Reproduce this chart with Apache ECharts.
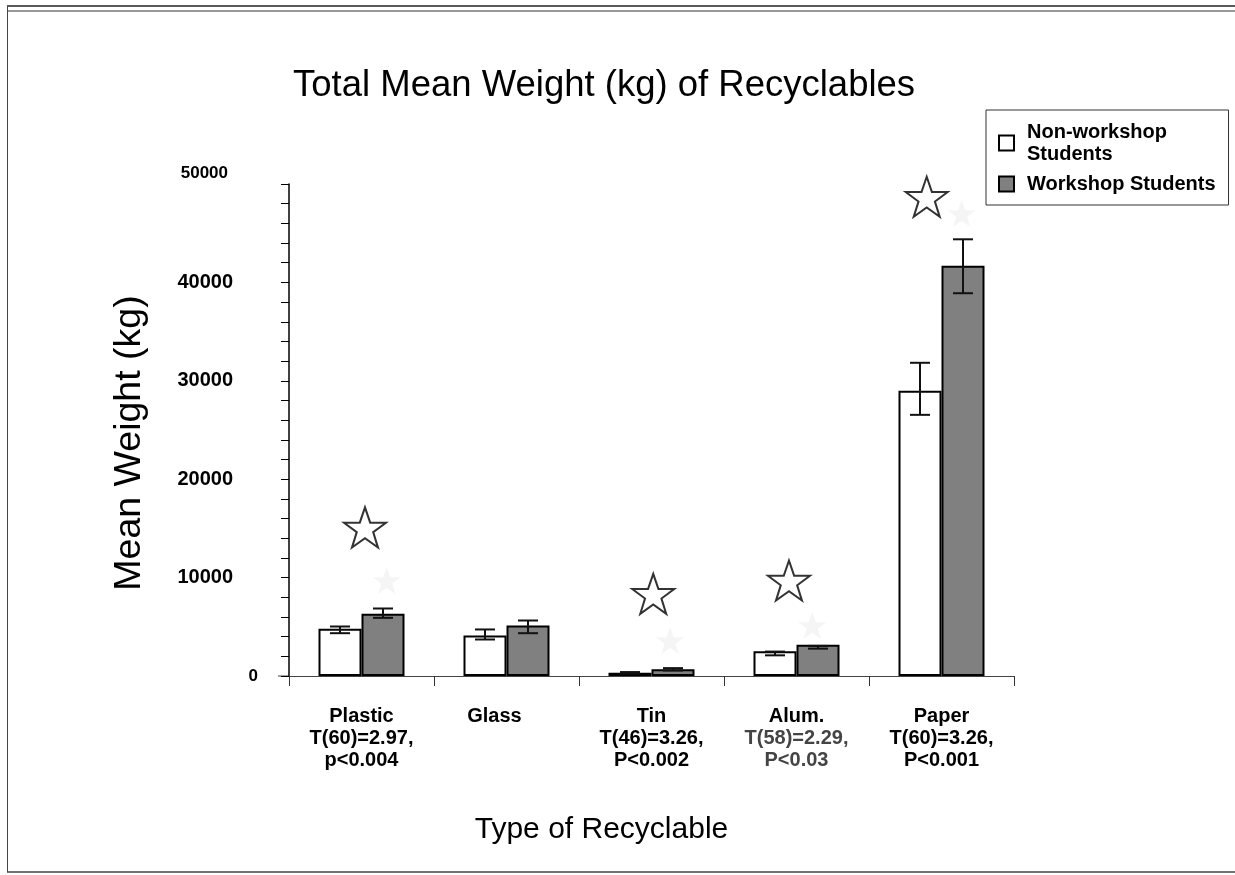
<!DOCTYPE html>
<html>
<head>
<meta charset="utf-8">
<script src="https://cdn.jsdelivr.net/npm/echarts@6/dist/echarts.min.js"></script>
<style>
  html, body { margin: 0; padding: 0; background: #fff; }
  #chart { width: 1235px; height: 875px; }
</style>
</head>
<body>
<div id="chart"></div>
<script>
// Recyclables collected, mean weight in kg per group
const categories = ['Plastic', 'Glass', 'Tin', 'Alum.', 'Paper'];
const statLines = [
  ['T(60)=2.97,', 'p<0.004'],
  [],
  ['T(46)=3.26,', 'P<0.002'],
  ['T(58)=2.29,', 'P<0.03'],
  ['T(60)=3.26,', 'P<0.001']
];
const seriesNames = ['Non-workshop\nStudents', 'Workshop Students'];
const nonWorkshop = [4800, 4120, 330, 2520, 29000];
const workshop = [6320, 5130, 680, 3170, 41700];
// error bar ranges [low, high]
const nonWorkshopErr = [[4350, 5030], [3710, 4730], [250, 400], [2100, 2480], [26540, 31830]];
const workshopErr = [[5910, 6860], [4350, 5640], [560, 800], [2780, 3060], [38900, 44380]];
// significance markers: [position along the category axis (0..5), height]
const sigStars = [[0.524, 15100], [2.512, 8350], [3.448, 9700], [4.398, 48700]];
const faintStars = [[0.674, 9700], [2.628, 3600], [3.609, 5130], [4.639, 47000]];
const yMax = 50000;
const yStep = 10000;

const FONT = '"Liberation Sans", Arial, Helvetica, sans-serif';
const BAR_W = 43;
const STAR = 'path://M50 0 L61.8 34.5 L97.6 34.5 L68.6 55.9 L79.4 90.5 L50 69.5 L20.6 90.5 L31.4 55.9 L2.4 34.5 L38.2 34.5 Z';

function errorSeries(ranges, side) {
  return {
    type: 'custom',
    xAxisIndex: 0,
    yAxisIndex: 0,
    z: 5,
    silent: true,
    data: ranges.map((r, i) => [i, r[0], r[1]]),
    renderItem(params, api) {
      const i = api.value(0);
      const lo = api.coord([i, api.value(1)]);
      const hi = api.coord([i, api.value(2)]);
      const x = lo[0] + side * BAR_W / 2;
      const cap = 10;
      const style = { stroke: '#111', lineWidth: 2 };
      return {
        type: 'group',
        children: [
          { type: 'line', shape: { x1: x, y1: lo[1], x2: x, y2: hi[1] }, style },
          { type: 'line', shape: { x1: x - cap, y1: lo[1], x2: x + cap, y2: lo[1] }, style },
          { type: 'line', shape: { x1: x - cap, y1: hi[1], x2: x + cap, y2: hi[1] }, style }
        ]
      };
    }
  };
}

const labelBase = { fontFamily: FONT, fontWeight: 'bold', fontSize: 20, lineHeight: 22, color: '#000' };

const chart = echarts.init(document.getElementById('chart'), null, { renderer: 'canvas' });
chart.setOption({
  animation: false,
  backgroundColor: '#fff',
  title: {
    text: 'Total Mean Weight (kg) of Recyclables',
    left: 288,
    top: 62,
    textStyle: { fontFamily: FONT, fontSize: 36.5, fontWeight: 'normal', color: '#000' }
  },
  legend: {
    data: seriesNames,
    orient: 'vertical',
    left: 986,
    top: 110,
    icon: 'rect',
    itemWidth: 15,
    itemHeight: 15,
    itemGap: 10,
    padding: [12, 13, 11, 12],
    borderColor: '#333',
    borderWidth: 1,
    selectedMode: false,
    formatter: name => '{t|' + name.split('\n').join('}\n{t|') + '}',
    textStyle: {
      rich: { t: { fontFamily: FONT, fontWeight: 'bold', fontSize: 20, lineHeight: 22, color: '#000', padding: [0, 0, 0, 8] } }
    }
  },
  grid: { left: 289, right: 221, top: 184, bottom: 199, containLabel: false },
  xAxis: [
    {
      type: 'category',
      data: categories,
      boundaryGap: true,
      axisLine: { lineStyle: { color: '#444', width: 1 } },
      axisTick: { show: true, length: 10, lineStyle: { color: '#333', width: 1 } },
      axisLabel: {
        interval: 0,
        margin: 29,
        formatter: (v) => {
          const idx = categories.indexOf(v);
          const head = idx === 1 ? '{gl|' + v + '}' : '{c|' + v + '}';
          const style = idx === 3 ? 'g' : 'c';
          const rest = statLines[idx].map(s => '{' + style + '|' + s + '}');
          return [head].concat(rest).join('\n');
        },
        rich: {
          c: Object.assign({}, labelBase),
          g: Object.assign({}, labelBase, { color: '#444' }),
          gl: Object.assign({}, labelBase, { padding: [0, 24, 0, 0] })
        }
      },
      name: 'Type of Recyclable',
      nameLocation: 'middle',
      nameGap: 139,
      nameTextStyle: { fontFamily: FONT, fontSize: 30, color: '#000', padding: [0, 100, 0, 0] }
    },
    { type: 'value', min: 0, max: categories.length, show: false }
  ],
  yAxis: {
    type: 'value',
    min: 0,
    max: yMax,
    interval: yStep,
    axisLine: { show: true, lineStyle: { color: '#000', width: 1.5 } },
    axisTick: { show: true, length: 8, lineStyle: { color: '#000', width: 1 } },
    minorTick: { show: true, splitNumber: 5, length: 8, lineStyle: { color: '#000', width: 1 } },
    splitLine: { show: false },
    minorSplitLine: { show: false },
    axisLabel: {
      margin: 31,
      formatter: v => (v === yMax ? '{top|' + v + '}' : v === 0 ? '{z|0}' : '{n|' + v + '}'),
      rich: {
        n: { fontFamily: FONT, fontWeight: 'bold', fontSize: 20, color: '#000', padding: [0, 25, 0, 0] },
        z: { fontFamily: FONT, fontWeight: 'bold', fontSize: 17, color: '#000' },
        top: { fontFamily: FONT, fontWeight: 'bold', fontSize: 17, color: '#000', padding: [0, 30, 22, 0] }
      }
    },
    name: 'Mean Weight (kg)',
    nameLocation: 'middle',
    nameGap: 140,
    nameTextStyle: { fontFamily: FONT, fontSize: 37.5, color: '#000', padding: [0, 26, 0, 0] }
  },
  series: [
    {
      name: seriesNames[0],
      type: 'bar',
      data: nonWorkshop,
      barWidth: BAR_W,
      barGap: '0%',
      itemStyle: { color: '#fff', borderColor: '#000', borderWidth: 2 }
    },
    {
      name: seriesNames[1],
      type: 'bar',
      data: workshop,
      barWidth: BAR_W,
      barGap: '0%',
      itemStyle: { color: '#808080', borderColor: '#000', borderWidth: 2 }
    },
    errorSeries(nonWorkshopErr, -1),
    errorSeries(workshopErr, 1),
    {
      type: 'scatter',
      xAxisIndex: 1,
      yAxisIndex: 0,
      data: faintStars,
      symbol: STAR,
      symbolSize: [28, 27],
      silent: true,
      itemStyle: { color: '#f3f3f3', borderWidth: 0 }
    },
    {
      type: 'scatter',
      xAxisIndex: 1,
      yAxisIndex: 0,
      data: sigStars,
      symbol: STAR,
      symbolSize: [42, 40],
      silent: true,
      z: 6,
      itemStyle: { color: '#fff', borderColor: '#000', borderWidth: 2 }
    }
  ],
  graphic: [
    { type: 'line', silent: true, shape: { x1: 7, y1: 6, x2: 1235, y2: 6 }, style: { stroke: '#222', lineWidth: 1.5 } },
    { type: 'line', silent: true, shape: { x1: 7, y1: 11, x2: 1235, y2: 11 }, style: { stroke: '#999', lineWidth: 2 } },
    { type: 'line', silent: true, shape: { x1: 7.5, y1: 6, x2: 7.5, y2: 872 }, style: { stroke: '#444', lineWidth: 1 } },
    { type: 'line', silent: true, shape: { x1: 7, y1: 872, x2: 1235, y2: 872 }, style: { stroke: '#444', lineWidth: 1.5 } },
    { type: 'line', silent: true, shape: { x1: 278, y1: 676, x2: 289, y2: 676 }, style: { stroke: '#444', lineWidth: 1 } }
  ]
});
</script>
</body>
</html>
